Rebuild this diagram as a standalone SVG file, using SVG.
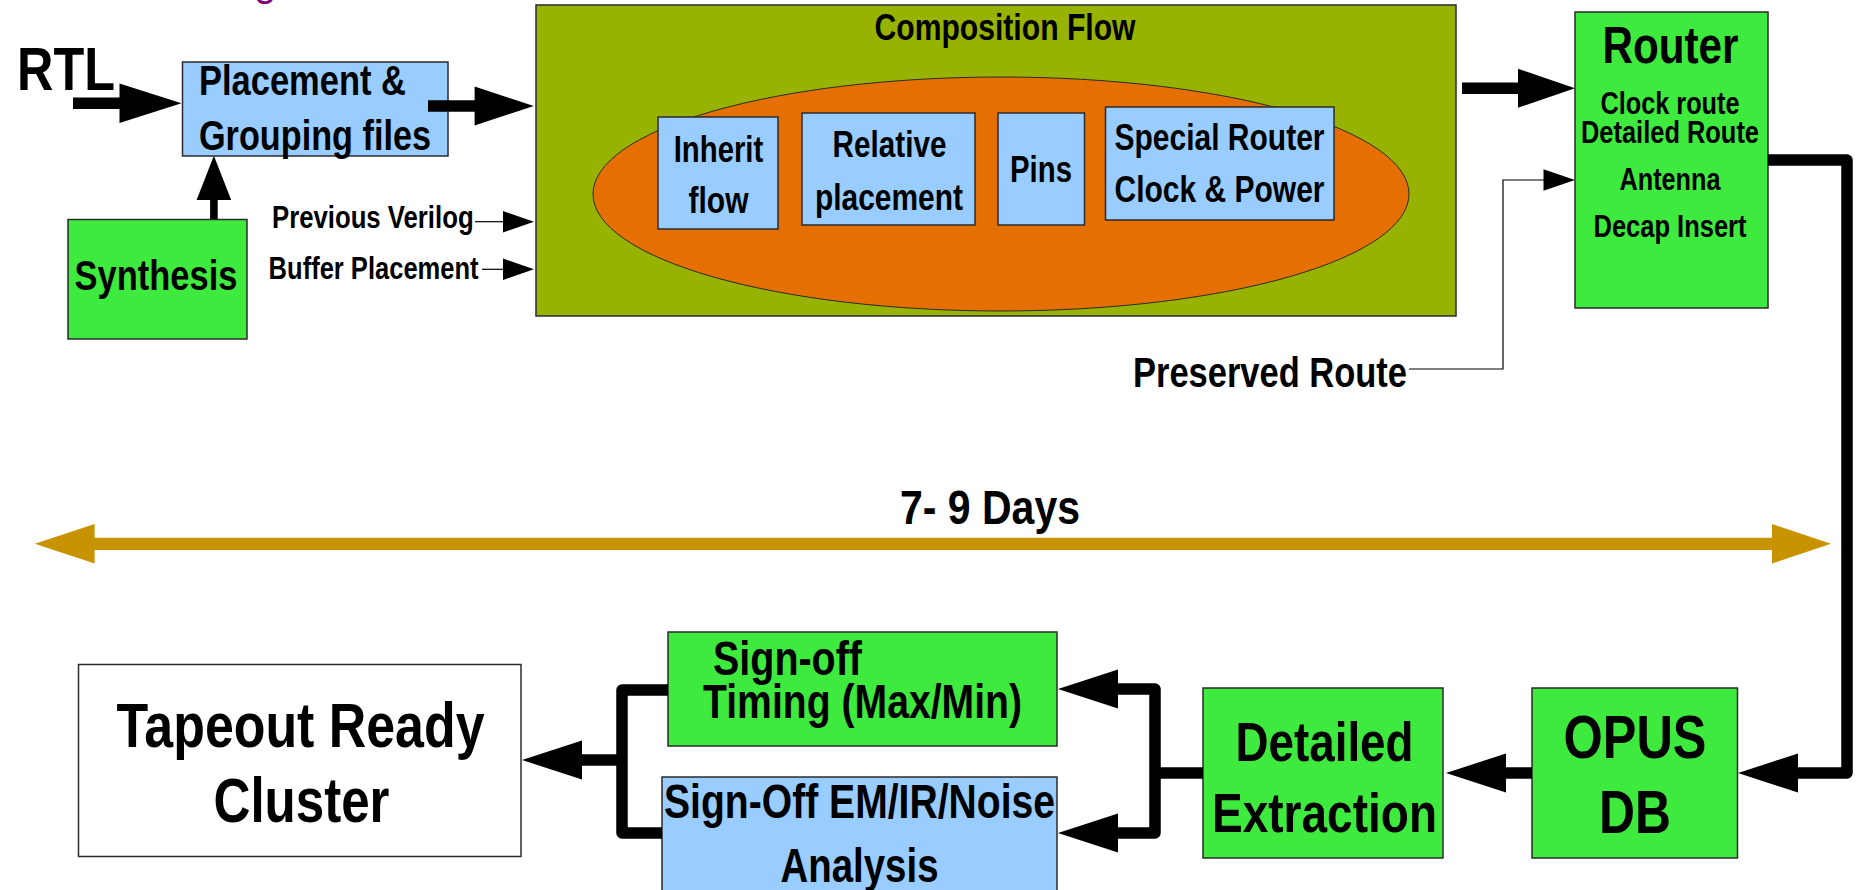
<svg xmlns="http://www.w3.org/2000/svg" width="1857" height="890" viewBox="0 0 1857 890">
  <style>
    text { font-family: "Liberation Sans Narrow", "Arial Narrow", "Liberation Sans", sans-serif; font-weight: bold; fill: #000; }
    .c { text-anchor: middle; }
    .box { stroke: #2b2b2b; stroke-width: 1.5; }
    .blue { fill: #99ccff; }
    .green { fill: #3eea3e; }
    .white { fill: #ffffff; }
    .thick { fill: none; stroke: #000; stroke-width: 11.5; stroke-linejoin: round; }
    .thin { fill: none; stroke: #000; stroke-width: 1.2; }
    .head { fill: #000; }
    .gold { fill: none; stroke: #c79300; stroke-width: 12.3; }
    .goldhead { fill: #c79300; }
  </style>

  <rect width="1857" height="890" fill="#ffffff"/>

  <!-- descender of the title line above -->
  <text x="254" y="-4" style="fill:#800080;font-size:40px;font-weight:normal">g</text>

  <g id="rtl">
    <text x="17" y="90" style="font-size:61.5px" textLength="98" lengthAdjust="spacingAndGlyphs">RTL</text>
  </g>

  <g id="placement">
    <rect class="box blue" x="182.5" y="62" width="265.5" height="94"/>
    <text x="199" y="95" style="font-size:42px" textLength="207" lengthAdjust="spacingAndGlyphs">Placement &amp;</text>
    <text x="199" y="150" style="font-size:42px" textLength="232" lengthAdjust="spacingAndGlyphs">Grouping files</text>
  </g>

  <g id="synthesis">
    <rect class="box green" x="68" y="219.5" width="179" height="119.5"/>
    <text class="c" x="156" y="290" style="font-size:41.6px" textLength="163" lengthAdjust="spacingAndGlyphs">Synthesis</text>
  </g>

  <g id="previous-verilog">
    <text x="272" y="228" style="font-size:31px" textLength="201.6" lengthAdjust="spacingAndGlyphs">Previous Verilog</text>
  </g>

  <g id="buffer-placement">
    <text x="268.6" y="279" style="font-size:31px" textLength="210" lengthAdjust="spacingAndGlyphs">Buffer Placement</text>
  </g>

  <g id="composition">
    <rect class="box" x="536" y="5" width="920" height="311" fill="#97b300"/>
    <text class="c" x="1005" y="40" style="font-size:36.7px" textLength="261" lengthAdjust="spacingAndGlyphs">Composition Flow</text>
    <ellipse cx="1001" cy="194" rx="408" ry="117" fill="#e56f00" stroke="#2b2b2b" stroke-width="1"/>
  </g>

  <g id="inherit">
    <rect class="box blue" x="658" y="117" width="120" height="112"/>
    <text class="c" x="718.5" y="161.7" style="font-size:36px" textLength="89.6" lengthAdjust="spacingAndGlyphs">Inherit</text>
    <text class="c" x="718.5" y="213" style="font-size:36px" textLength="60" lengthAdjust="spacingAndGlyphs">flow</text>
  </g>

  <g id="relative">
    <rect class="box blue" x="802" y="113" width="173" height="112"/>
    <text class="c" x="889.5" y="156.7" style="font-size:36.2px" textLength="113.8" lengthAdjust="spacingAndGlyphs">Relative</text>
    <text class="c" x="889" y="210" style="font-size:36.2px" textLength="148" lengthAdjust="spacingAndGlyphs">placement</text>
  </g>

  <g id="pins">
    <rect class="box blue" x="998" y="113" width="86.5" height="112"/>
    <text class="c" x="1041" y="181.7" style="font-size:36px" textLength="62" lengthAdjust="spacingAndGlyphs">Pins</text>
  </g>

  <g id="special-router">
    <rect class="box blue" x="1105.5" y="107" width="228.5" height="113"/>
    <text class="c" x="1219.5" y="150" style="font-size:36.6px" textLength="210" lengthAdjust="spacingAndGlyphs">Special Router</text>
    <text class="c" x="1219.5" y="201.7" style="font-size:36.6px" textLength="210" lengthAdjust="spacingAndGlyphs">Clock &amp; Power</text>
  </g>

  <g id="router">
    <rect class="box green" x="1575" y="12" width="193" height="296"/>
    <text class="c" x="1670.5" y="63.3" style="font-size:51.5px" textLength="136" lengthAdjust="spacingAndGlyphs">Router</text>
    <text class="c" x="1670" y="114.3" style="font-size:31px" textLength="139" lengthAdjust="spacingAndGlyphs">Clock route</text>
    <text class="c" x="1670" y="142.7" style="font-size:31px" textLength="178" lengthAdjust="spacingAndGlyphs">Detailed Route</text>
    <text class="c" x="1670" y="190" style="font-size:31px" textLength="101" lengthAdjust="spacingAndGlyphs">Antenna</text>
    <text class="c" x="1670" y="236.7" style="font-size:31px" textLength="153" lengthAdjust="spacingAndGlyphs">Decap Insert</text>
  </g>

  <g id="preserved-route">
    <text x="1133" y="386.7" style="font-size:42px" textLength="274" lengthAdjust="spacingAndGlyphs">Preserved Route</text>
  </g>

  <g id="schedule">
    <text class="c" x="990" y="524" style="font-size:48px" textLength="180" lengthAdjust="spacingAndGlyphs">7- 9 Days</text>
  </g>

  <g id="tapeout">
    <rect class="box white" x="78.5" y="664.5" width="442.5" height="192"/>
    <text class="c" x="300.5" y="746.7" style="font-size:62.5px" textLength="368" lengthAdjust="spacingAndGlyphs">Tapeout Ready</text>
    <text class="c" x="301.5" y="821.7" style="font-size:62.5px" textLength="176" lengthAdjust="spacingAndGlyphs">Cluster</text>
  </g>

  <g id="signoff-timing">
    <rect class="box green" x="668" y="632" width="389" height="114"/>
    <text x="713" y="675" style="font-size:47.6px" textLength="149" lengthAdjust="spacingAndGlyphs">Sign-off</text>
    <text class="c" x="862.5" y="718" style="font-size:47.6px" textLength="319" lengthAdjust="spacingAndGlyphs">Timing (Max/Min)</text>
  </g>

  <g id="signoff-emir">
    <rect class="box blue" x="662" y="777" width="395" height="130"/>
    <text class="c" x="859.5" y="818" style="font-size:47.6px" textLength="391" lengthAdjust="spacingAndGlyphs">Sign-Off EM/IR/Noise</text>
    <text class="c" x="859.5" y="882" style="font-size:47.6px" textLength="158" lengthAdjust="spacingAndGlyphs">Analysis</text>
  </g>

  <g id="extraction">
    <rect class="box green" x="1203" y="688" width="240" height="170"/>
    <text class="c" x="1324.5" y="761" style="font-size:56px" textLength="178" lengthAdjust="spacingAndGlyphs">Detailed</text>
    <text class="c" x="1324.5" y="832" style="font-size:56px" textLength="225" lengthAdjust="spacingAndGlyphs">Extraction</text>
  </g>

  <g id="opus">
    <rect class="box green" x="1532" y="688" width="205.5" height="170"/>
    <text class="c" x="1635" y="758" style="font-size:62px" textLength="143" lengthAdjust="spacingAndGlyphs">OPUS</text>
    <text class="c" x="1635" y="833" style="font-size:62px" textLength="72" lengthAdjust="spacingAndGlyphs">DB</text>
  </g>

  <!-- connectors, drawn last so shafts sit over box edges -->
  <g id="connectors">
    <!-- RTL into placement -->
    <line class="thick" x1="73" y1="103.3" x2="121" y2="103.3"/>
    <polygon class="head" points="119.5,83.6 181.5,103.3 119.5,123"/>
    <!-- placement into composition -->
    <line class="thick" x1="428" y1="106" x2="476" y2="106"/>
    <polygon class="head" points="474.6,86.5 533.8,106 474.6,125.5"/>
    <!-- synthesis up to placement -->
    <line x1="213.9" y1="219" x2="213.9" y2="198" stroke="#000" stroke-width="7.6"/>
    <polygon class="head" points="196.6,200 213.9,155.7 231.2,200"/>
    <!-- side inputs -->
    <line class="thin" x1="475" y1="221.7" x2="504" y2="221.7"/>
    <polygon class="head" points="503,211 534,221.7 503,232.4"/>
    <line class="thin" x1="482" y1="269.3" x2="504" y2="269.3"/>
    <polygon class="head" points="503,258.6 534,269.3 503,280"/>
    <!-- composition into router -->
    <line class="thick" x1="1462" y1="88.3" x2="1519" y2="88.3"/>
    <polygon class="head" points="1518,68.8 1575,88.3 1518,107.8"/>
    <!-- preserved route -->
    <polyline class="thin" points="1409,369 1503,369 1503,180 1545,180"/>
    <polygon class="head" points="1543.5,169.2 1575,180 1543.5,190.8"/>
    <!-- router down to OPUS -->
    <polyline class="thick" points="1768,160 1847,160 1847,773 1797,773"/>
    <polygon class="head" points="1798,753.5 1738,773 1798,792.5"/>
    <!-- OPUS to extraction -->
    <line class="thick" x1="1532" y1="773" x2="1505" y2="773"/>
    <polygon class="head" points="1506,753.5 1446,773 1506,792.5"/>
    <!-- extraction fan-out to sign-off -->
    <polyline class="thick" points="1203,773 1155,773"/>
    <polyline class="thick" points="1117,689 1155,689 1155,833 1117,833"/>
    <polygon class="head" points="1118,669.5 1058,689 1118,708.5"/>
    <polygon class="head" points="1118,813.5 1058,833 1118,852.5"/>
    <!-- sign-off fan-in to tapeout -->
    <polyline class="thick" points="668,690 622,690 622,833 662,833"/>
    <line class="thick" x1="622" y1="760" x2="581" y2="760"/>
    <polygon class="head" points="582,740.5 522,760 582,779.5"/>
    <!-- schedule span -->
    <line class="gold" x1="94" y1="543.8" x2="1773" y2="543.8"/>
    <polygon class="goldhead" points="94.6,524 34.8,543.8 94.6,563.6"/>
    <polygon class="goldhead" points="1772,524 1831,543.8 1772,563.6"/>
  </g>
</svg>
